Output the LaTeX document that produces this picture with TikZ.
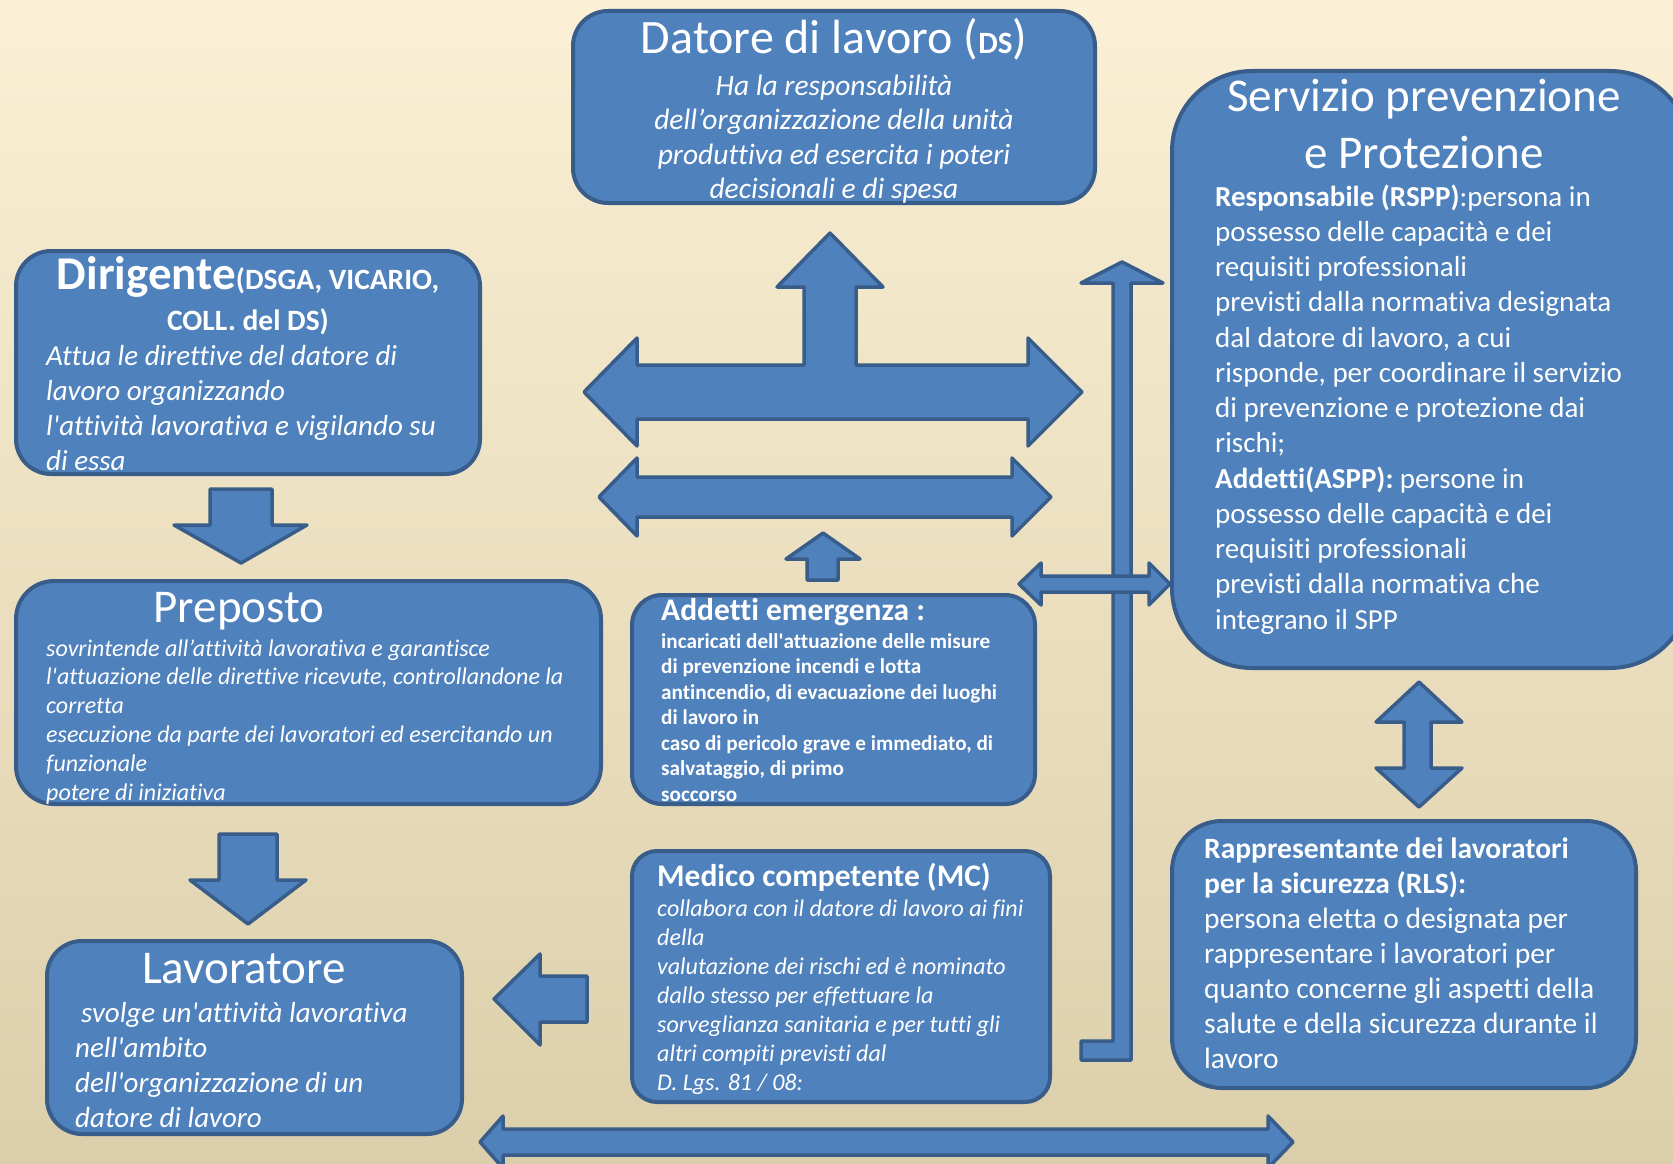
\documentclass[tikz,border=0pt]{standalone}
\usepackage{fontspec}
\setmainfont{Carlito}[Ligatures={TeX,NoCommon}]
\usepackage{xcolor}
\usepackage{tikz}
\usetikzlibrary{positioning}

\definecolor{blu}{RGB}{79,129,189}
\definecolor{bordo}{RGB}{56,93,138}
\definecolor{sfondoAlto}{RGB}{251,239,213}
\definecolor{sfondoBasso}{RGB}{219,207,171}

\newcommand{\fs}[2]{\fontsize{#1}{#2}\selectfont}
\newcommand{\apice}{\textquotesingle}

\begin{document}
\begin{tikzpicture}[
  x=1pt, y=-1pt,
  riquadro/.style={draw=bordo, fill=blu, line width=4pt, inner sep=0pt},
  freccia/.style={draw=bordo, fill=blu, line width=3.5pt, line join=round},
  titolo/.style={text=white, inner sep=0pt, anchor=base, font={\fs{47}{57}}},
  testo/.style={text=white, inner sep=0pt, align=left, anchor=base west}
]
  \useasboundingbox (0,0) rectangle (1673,1164);
  \shade[top color=sfondoAlto, bottom color=sfondoBasso] (0,0) rectangle (1673,1164);

  % riquadri
  \node[riquadro, rounded corners=35pt, minimum width=522pt, minimum height=192pt] (datore) at (834,107) {};
  \node[riquadro, rounded corners=80pt, minimum width=518pt, minimum height=597pt] (spp) at (1431,369.5) {};
  \node[riquadro, rounded corners=35pt, minimum width=464pt, minimum height=223pt] (dirigente) at (248,362.5) {};
  \node[riquadro, rounded corners=38pt, minimum width=585pt, minimum height=223pt] (preposto) at (308.5,692.5) {};
  \node[riquadro, rounded corners=35pt, minimum width=415pt, minimum height=193pt] (lavoratore) at (254.5,1037.5) {};
  \node[riquadro, rounded corners=30pt, minimum width=403pt, minimum height=209pt] (addetti) at (833.5,699.5) {};
  \node[riquadro, rounded corners=25pt, minimum width=418pt, minimum height=251pt] (medico) at (841,976.5) {};
  \node[riquadro, rounded corners=50pt, minimum width=464pt, minimum height=267pt] (rls) at (1404,954.5) {};

  % frecce
  \draw[freccia] (584,392) -- (637,338) -- (637,365) -- (804,365) -- (804,287) -- (777,287) -- (830,233)
    -- (883,287) -- (856,287) -- (856,365) -- (1028,365) -- (1028,338) -- (1082,392) -- (1028,446)
    -- (1028,419) -- (637,419) -- (637,446) -- cycle;
  \draw[freccia] (599,497) -- (637,458) -- (637,477) -- (1012,477) -- (1012,458) -- (1051,497)
    -- (1012,536) -- (1012,517) -- (637,517) -- (637,536) -- cycle;
  \draw[freccia] (823,533) -- (860,559) -- (838,559) -- (838,580) -- (807,580) -- (807,559) -- (786,559) -- cycle;
  \draw[freccia] (1122,262) -- (1163,283) -- (1131,283) -- (1131,1060) -- (1081,1060) -- (1081,1041)
    -- (1113,1041) -- (1113,283) -- (1081,283) -- cycle;
  \draw[freccia] (1019,584) -- (1041,563) -- (1041,576) -- (1149,576) -- (1149,563) -- (1170,584)
    -- (1149,605) -- (1149,592) -- (1041,592) -- (1041,605) -- cycle;
  \draw[freccia] (210,489) -- (272,489) -- (272,525) -- (307,525) -- (241,563) -- (174,525) -- (210,525) -- cycle;
  \draw[freccia] (219,834) -- (277,834) -- (277,880) -- (306,880) -- (248,924) -- (190,880) -- (219,880) -- cycle;
  \draw[freccia] (494,999) -- (540,954) -- (540,976) -- (587,976) -- (587,1022) -- (540,1022) -- (540,1045) -- cycle;
  \draw[freccia] (1419,682) -- (1462,722) -- (1431,722) -- (1431,768) -- (1462,768) -- (1419,807)
    -- (1376,768) -- (1404,768) -- (1404,722) -- (1376,722) -- cycle;
  \draw[freccia] (480,1142) -- (503,1116) -- (503,1129) -- (1268,1129) -- (1268,1116) -- (1293,1142)
    -- (1268,1168) -- (1268,1155) -- (503,1155) -- (503,1168) -- cycle;

  % testi (anchor base = ultima riga)
  \node[titolo, font={\fs{48}{57}}] (datoreT) at (834,54) {Datore di lavoro ({\bfseries\fs{31}{36}DS})};
  \node[testo, align=center, anchor=base, font={\itshape\fs{29.5}{34.5}}] (datoreD) at (834,198.5)
    {Ha la responsabilità\\dell’organizzazione della unità\\produttiva ed esercita i poteri\\decisionali e di spesa};

  \node[titolo, align=center, font={\bfseries\fs{29.5}{41}}] (dirigenteT) at (248,330)
    {{\fs{47}{57}Dirigente}(DSGA, VICARIO,\\COLL. del DS)};
  \node[testo, font={\itshape\fs{29}{35}}] (dirigenteD) at (46,470)
    {Attua le direttive del datore di\\lavoro organizzando\\l\apice attività lavorativa e vigilando su\\di essa};

  \node[titolo] (prepostoT) at (239,622) {Preposto};
  \node[testo, font={\itshape\fs{24}{28.8}}] (prepostoD) at (46,800)
    {sovrintende all’attività lavorativa e garantisce\\l\apice attuazione delle direttive ricevute, controllandone la\\corretta\\esecuzione da parte dei lavoratori ed esercitando un\\funzionale\\potere di iniziativa};

  \node[titolo] (lavoratoreT) at (244,983) {Lavoratore};
  \node[testo, font={\itshape\fs{29}{35}}] (lavoratoreD) at (75,1127)
    {\hspace*{6pt}svolge un\apice attività lavorativa\\nell\apice ambito\\dell\apice organizzazione di un\\datore di lavoro};

  \node[testo, font={\bfseries\fs{31.5}{38}}] (addettiT) at (661,620) {Addetti emergenza :};
  \node[testo, font={\bfseries\fs{21.2}{25.5}}] (addettiD) at (661,801)
    {incaricati dell\apice attuazione delle misure\\di prevenzione incendi e lotta\\antincendio, di evacuazione dei luoghi\\di lavoro in\\caso di pericolo grave e immediato, di\\salvataggio, di primo\\soccorso};

  \node[testo, font={\bfseries\fs{31.5}{38}}] (medicoT) at (657,886) {Medico competente (MC)};
  \node[testo, font={\itshape\fs{24}{29}}] (medicoD) at (657,1090)
    {collabora con il datore di lavoro ai fini\\della\\valutazione dei rischi ed è nominato\\dallo stesso per effettuare la\\sorveglianza sanitaria e per tutti gli\\altri compiti previsti dal\\D. Lgs. 81 / 08:};

  \node[titolo, align=center] (sppT) at (1424,168) {Servizio prevenzione\\e Protezione};
  \node[testo, font={\fs{29}{35.25}}] (sppD) at (1215,629)
    {\textbf{Responsabile (RSPP)}:persona in\\possesso delle capacità e dei\\requisiti professionali\\previsti dalla normativa designata\\dal datore di lavoro, a cui\\risponde, per coordinare il servizio\\di prevenzione e protezione dai\\rischi;\\\textbf{Addetti(ASPP):} persone in\\possesso delle capacità e dei\\requisiti professionali\\previsti dalla normativa che\\integrano il SPP};

  \node[testo, font={\fs{29.5}{35}}] (rlsT) at (1204,1068)
    {\textbf{Rappresentante dei lavoratori}\\\textbf{per la sicurezza (RLS):}\\persona eletta o designata per\\rappresentare i lavoratori per\\quanto concerne gli aspetti della\\salute e della sicurezza durante il\\lavoro};
\end{tikzpicture}
\end{document}
